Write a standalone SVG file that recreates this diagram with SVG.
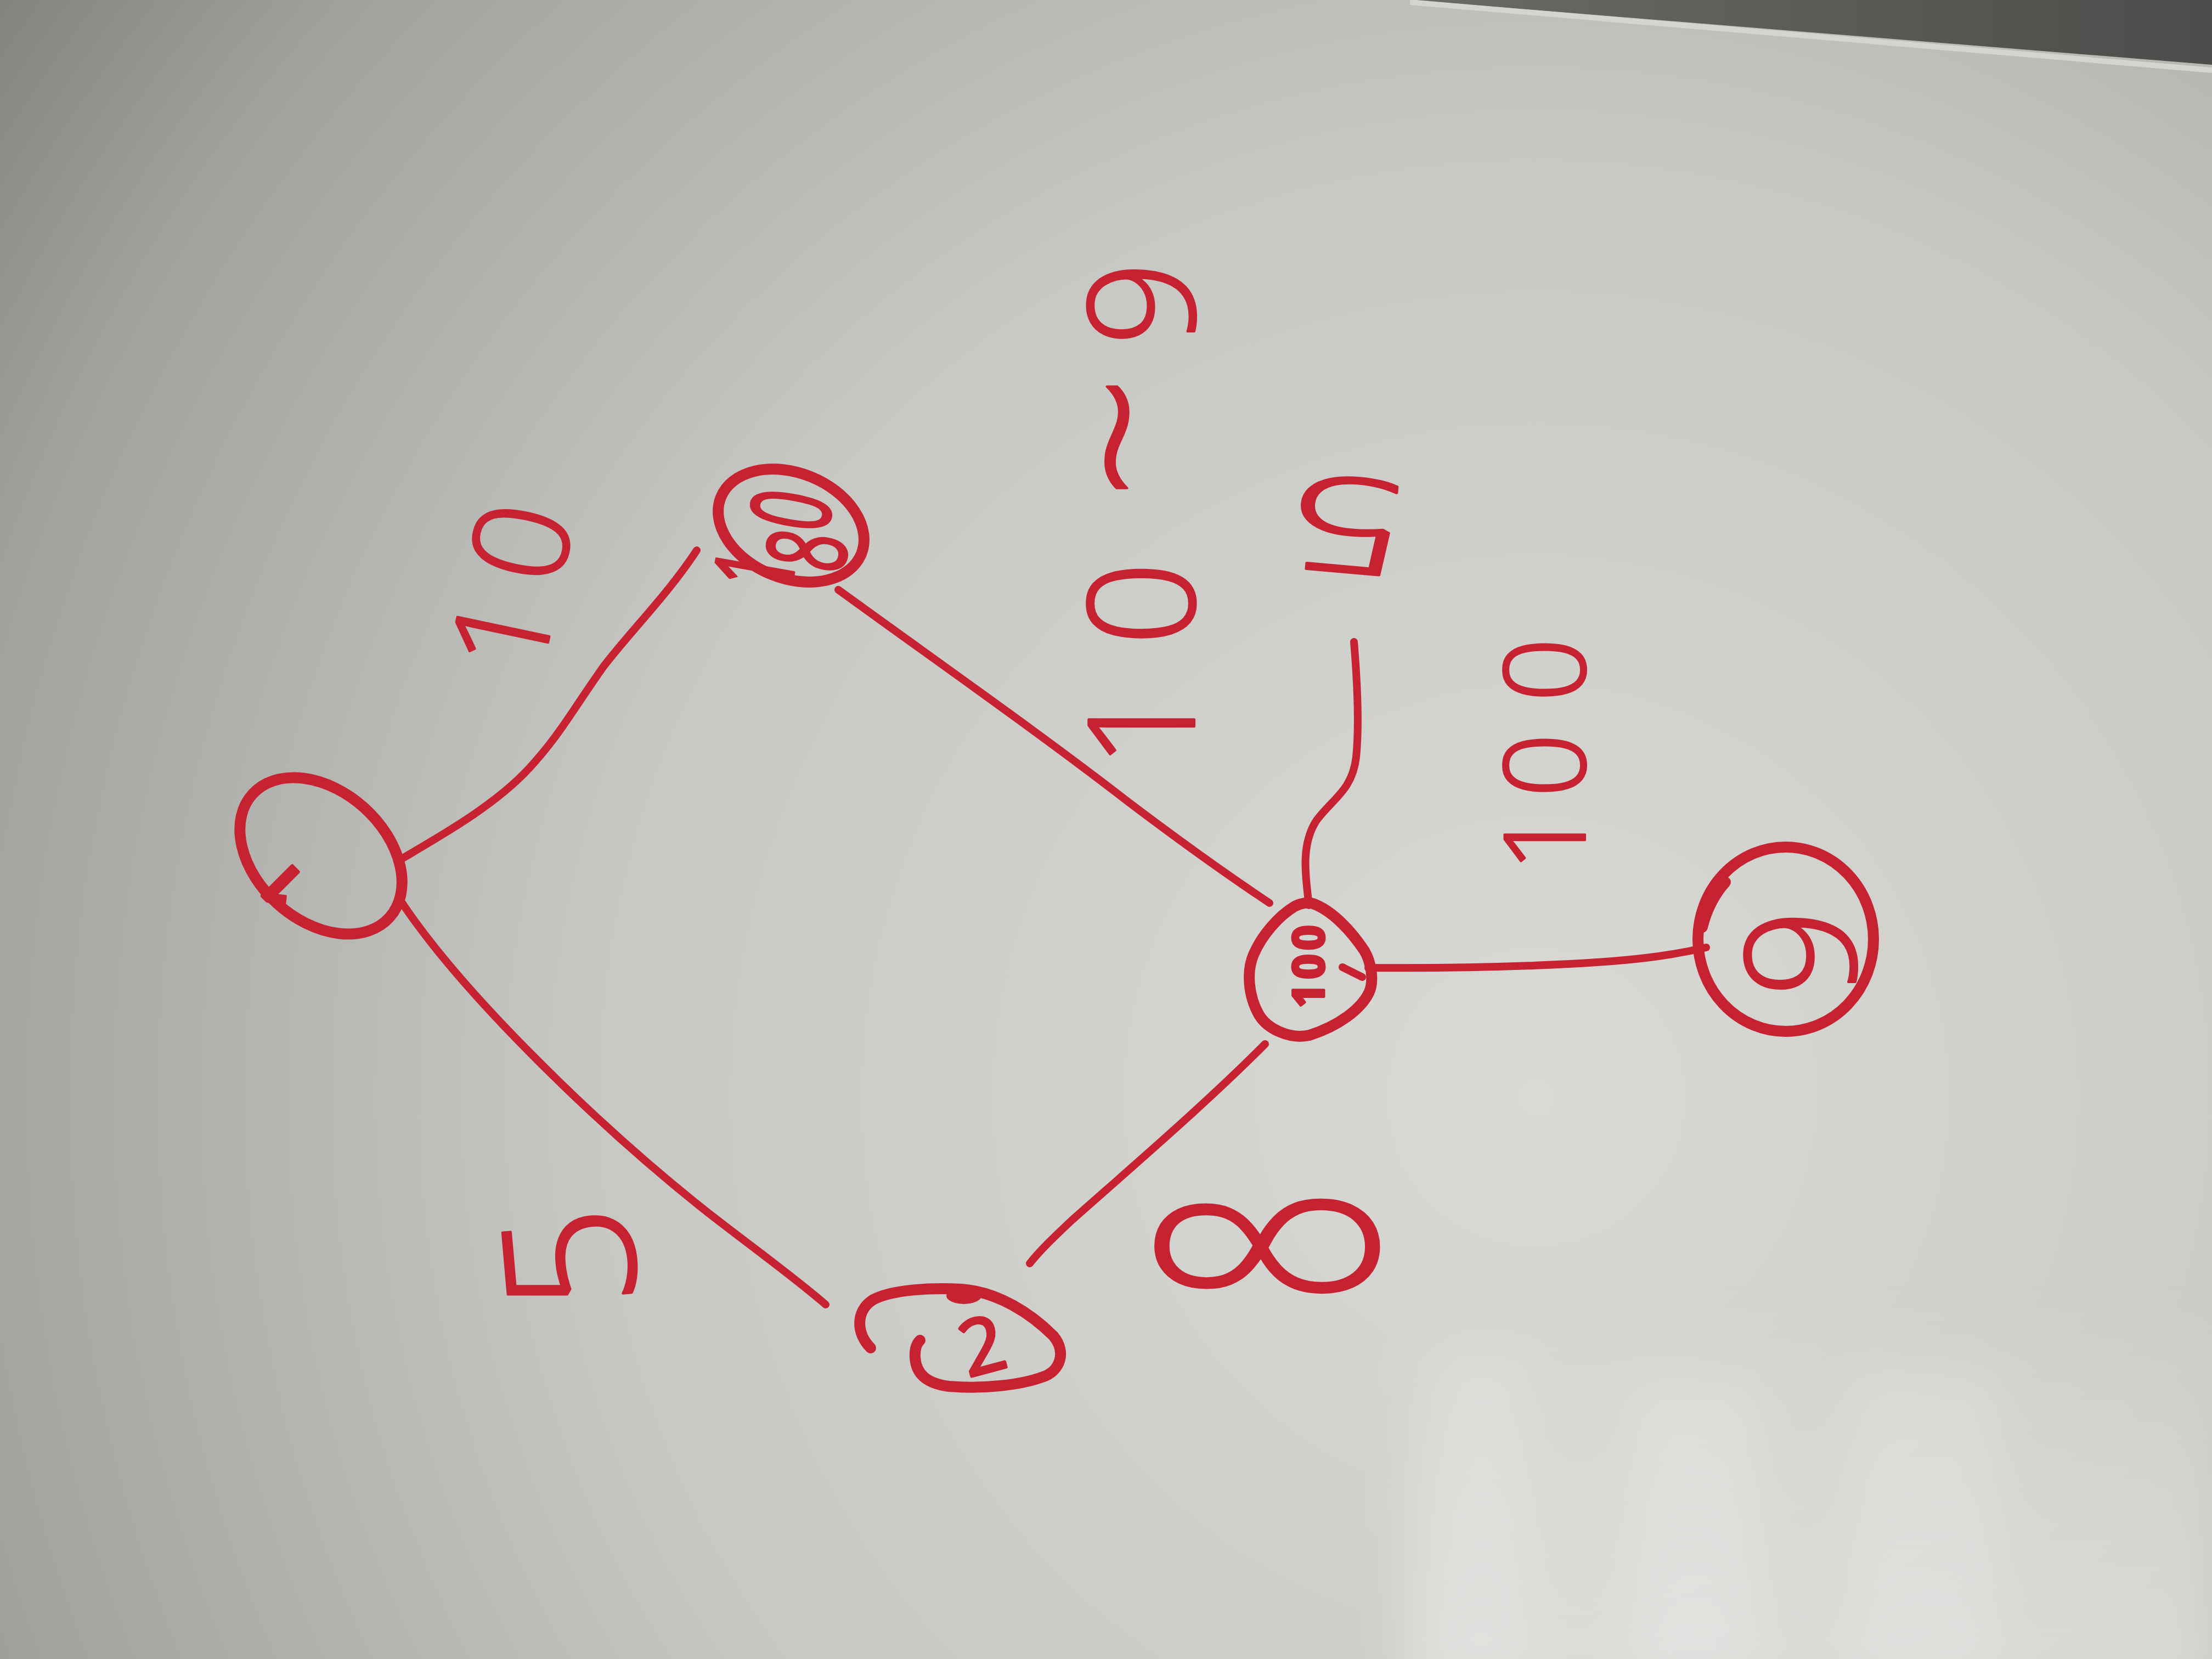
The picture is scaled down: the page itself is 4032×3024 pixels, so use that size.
<svg xmlns="http://www.w3.org/2000/svg" width="4032" height="3024" viewBox="0 0 4032 3024">
  <defs>
    <radialGradient id="board" gradientUnits="userSpaceOnUse" cx="2800" cy="2000" r="3450">
      <stop offset="0" stop-color="#d9d9d6"/>
      <stop offset="0.5" stop-color="#c7c7c3"/>
      <stop offset="0.85" stop-color="#a1a19d"/>
      <stop offset="1" stop-color="#82827e"/>
    </radialGradient>
    <linearGradient id="glare" x1="0" y1="0" x2="0" y2="1">
      <stop offset="0" stop-color="#ffffff" stop-opacity="0"/>
      <stop offset="0.5" stop-color="#ffffff" stop-opacity="0.18"/>
      <stop offset="1" stop-color="#ffffff" stop-opacity="0.3"/>
    </linearGradient>
    <linearGradient id="frame" x1="0" y1="0" x2="1" y2="0">
      <stop offset="0" stop-color="#6a6a66"/>
      <stop offset="1" stop-color="#4c4c4a"/>
    </linearGradient>
    <filter id="soft" x="-20%" y="-20%" width="140%" height="140%">
      <feGaussianBlur stdDeviation="40"/>
    </filter>
    <style>
      .node { fill: none; stroke: #c62231; stroke-width: 20; stroke-linecap: round; stroke-linejoin: round; }
      .edge { fill: none; stroke: #c62231; stroke-width: 14; stroke-linecap: round; stroke-linejoin: round; }
      .lbl { fill: #c62231; stroke: #c62231; stroke-linejoin: round; font-family: "Open Sans", "Liberation Sans", sans-serif; text-anchor: middle; }
      .big { font-weight: 300; stroke-width: 4; }
      .mid { font-weight: 400; stroke-width: 5; }
      .small { font-weight: 700; stroke-width: 5; }
    </style>
  </defs>

  <!-- whiteboard background -->
  <rect x="0" y="0" width="4032" height="3024" fill="url(#board)"/>
  <g filter="url(#soft)">
    <rect x="2550" y="2380" width="1482" height="700" fill="url(#glare)"/>
    <rect x="2620" y="2470" width="160" height="600" fill="#ffffff" opacity="0.14"/>
    <rect x="2980" y="2520" width="220" height="560" fill="#ffffff" opacity="0.16"/>
    <rect x="3380" y="2500" width="260" height="580" fill="#ffffff" opacity="0.14"/>
  </g>
  <polygon points="2570,0 4032,0 4032,118" fill="url(#frame)"/>
  <line x1="2570" y1="4" x2="4032" y2="128" stroke="#d4d4d0" stroke-width="10"/>

  <!-- connectors -->
  <g id="connectors">
    <path id="e-a-b" class="edge" d="M728,1568 C800,1525 900,1470 964,1401 C1020,1340 1040,1300 1100,1215 C1150,1150 1220,1080 1270,1003"/>
    <path id="e-a-d" class="edge" d="M733,1646 C850,1820 1100,2060 1290,2210 C1380,2280 1450,2330 1505,2378"/>
    <path id="e-b-c" class="edge" d="M1528,1075 C1700,1200 1900,1340 2057,1462 C2180,1555 2260,1610 2314,1646"/>
    <path id="e-c-up" class="edge" d="M2386,1650 C2380,1600 2370,1540 2400,1495 C2430,1455 2465,1440 2472,1380 C2478,1320 2473,1230 2468,1170"/>
    <path id="e-c-d" class="edge" d="M2306,1903 C2200,2010 2060,2130 1954,2224 C1920,2256 1895,2280 1877,2303"/>
    <path id="e-c-e" class="edge" d="M2494,1764 C2700,1766 2900,1758 3000,1746 C3050,1740 3080,1734 3110,1727"/>
    <text class="lbl big" font-size="240" transform="translate(940,1035) rotate(-78)" y="86"><tspan x="-121">1</tspan><tspan x="48">0</tspan></text>
    <text class="lbl big" font-size="330" transform="translate(1037,2295) rotate(-95)" x="0" y="119">5</text>
    <text class="lbl big" font-size="270" transform="translate(2080,900) rotate(-90)" y="97"><tspan x="-424">1</tspan><tspan x="-200">0</tspan><tspan x="103" font-size="400">~</tspan><tspan x="347">9</tspan></text>
    <text class="lbl big" font-size="240" transform="translate(2457,958) rotate(185) scale(1.6,1)" x="0" y="86">5</text>
    <text class="lbl big" font-size="205" transform="translate(2815,1350) rotate(-90)" y="74"><tspan x="-181">1</tspan><tspan x="-45">0</tspan><tspan x="129">0</tspan></text>
    <text class="lbl big" font-size="555" transform="translate(2308,2271) rotate(-90) scale(0.68,1)" x="0" y="200">8</text>
  </g>

  <!-- nodes -->
  <g id="node-a">
    <ellipse class="node" cx="585" cy="1560" rx="168" ry="118" transform="rotate(42 585 1560)"/>
    <text class="lbl small" font-size="110" transform="translate(515,1615) rotate(-135)" x="0" y="39">1</text>
  </g>
  <g id="node-b">
    <ellipse class="node" cx="1442" cy="958" rx="138" ry="96" transform="rotate(22 1442 958)"/>
    <text class="lbl mid" font-size="200" transform="translate(1445,985) rotate(-80) scale(0.6,1)"><tspan x="-107" y="12">1</tspan><tspan x="-22" y="100">8</tspan><tspan x="90" y="59">0</tspan></text>
  </g>
  <g id="node-c">
    <path class="node" d="M2393,1647 C2430,1660 2465,1700 2487,1733 C2500,1755 2505,1790 2495,1810 C2480,1840 2440,1870 2387,1887 C2350,1895 2310,1875 2295,1850 C2275,1815 2272,1770 2285,1740 C2300,1705 2330,1670 2360,1652 C2372,1646 2385,1644 2393,1647 Z"/>
    <path class="edge" d="M2447,1763 L2483,1781"/>
    <text class="lbl small" font-size="78" textLength="150" lengthAdjust="spacing" transform="translate(2385,1762) rotate(-90)" x="0" y="28">100</text>
  </g>
  <g id="node-d">
    <path class="node" d="M1587,2457 C1560,2430 1560,2390 1590,2370 C1625,2350 1700,2347 1753,2350 C1820,2355 1880,2395 1920,2435 C1945,2465 1932,2500 1900,2510 C1860,2525 1790,2532 1730,2527 C1690,2522 1670,2505 1668,2475 C1667,2460 1670,2450 1677,2443"/>
    <ellipse cx="1757" cy="2362" rx="32" ry="15" fill="#c62231"/>
    <text class="lbl mid" font-size="140" transform="translate(1790,2452) rotate(-15)" x="0" y="50">2</text>
  </g>
  <g id="node-e">
    <ellipse class="node" cx="3255" cy="1712" rx="160" ry="168"/>
    <path class="node" d="M3103,1690 C3110,1660 3125,1630 3145,1608"/>
    <text class="lbl big" font-size="280" transform="translate(3282,1737) rotate(-90)" x="0" y="100">9</text>
  </g>
</svg>
